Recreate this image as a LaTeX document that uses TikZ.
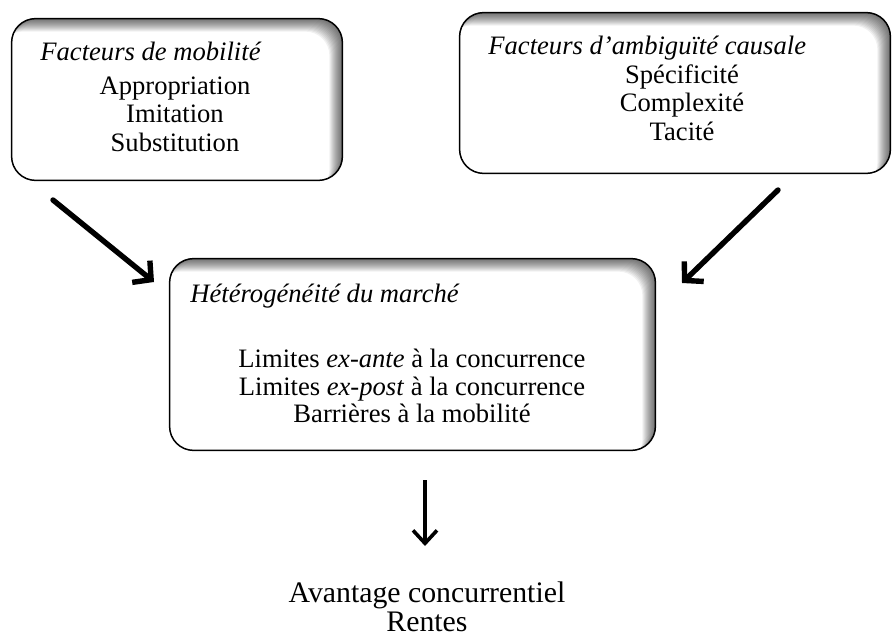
\documentclass[tikz,border=0pt]{standalone}
\usepackage{fontspec}
\setmainfont{Liberation Serif}
\usetikzlibrary{arrows.meta, positioning, calc}
\tikzset{
  boxnode/.style={draw=none, fill=white, rounded corners=12pt, inner sep=0pt},
  boxtxt/.style={font=\fontsize{13.3}{15}\selectfont, inner sep=0pt, anchor=base},
  titletxt/.style={font=\fontsize{13.3}{15}\selectfont\itshape, inner sep=0pt, anchor=base west},
  endtxt/.style={font=\fontsize{14.9}{17}\selectfont, inner sep=0pt, anchor=base},
  bigarrow/.style={line width=2.7pt, line cap=round, -{Straight Barb[length=6.5pt,width=14pt]}},
  smallarrow/.style={line width=1.8pt, -{Straight Barb[length=6.5pt,width=12pt]}},
}
% inner shadow along top and right edge of a box node
\newcommand{\innershade}[1]{%
  \begin{scope}
    \clip[rounded corners=12pt] (#1.south west) rectangle (#1.north east);
    \foreach \i in {1,...,13}
      \fill[black, opacity=0.055, even odd rule, rounded corners=12pt]
        ([shift={(-30,30)}]#1.north west) rectangle ([shift={(30,-30)}]#1.south east)
        ([shift={(-\i,-\i)}]#1.south west) rectangle ([shift={(-\i,-\i)}]#1.north east);
  \end{scope}
  \draw[line width=0.75pt, rounded corners=12pt] (#1.south west) rectangle (#1.north east);
}

\begin{document}
\begin{tikzpicture}[x=0.5pt,y=0.5pt]
\useasboundingbox (0,0) rectangle (893,-636);

% -- Facteurs de mobilite ------------------------------------------------------
\node[boxnode, minimum width=165pt, minimum height=80.5pt] (mob) at (177,-99.5) {};
\innershade{mob}
\node[titletxt] (mobtitle) at (40,-61) {Facteurs de mobilité};
\foreach \t [count=\k] in {Appropriation, Imitation, Substitution}
  \node[boxtxt] (mob\k) at (175,-66-28.5*\k) {\t};

% -- Facteurs d'ambiguite causale ----------------------------------------------
\node[boxnode, minimum width=215pt, minimum height=80pt] (amb) at (675,-93) {};
\innershade{amb}
\node[titletxt] (ambtitle) at (488,-55) {Facteurs d’ambiguïté causale};
\foreach \t [count=\k] in {Spécificité, Complexité, Tacité}
  \node[boxtxt] (amb\k) at (682,-55-28.5*\k) {\t};

% -- Heterogeneite du marche ---------------------------------------------------
\node[boxnode, minimum width=242.5pt, minimum height=95.5pt] (het) at (412.5,-354.5) {};
\innershade{het}
\node[titletxt] (hettitle) at (190,-302) {Hétérogénéité du marché};
\foreach \t [count=\k] in {Limites \textit{ex-ante} à la concurrence,
                           Limites \textit{ex-post} à la concurrence,
                           Barrières à la mobilité}
  \node[boxtxt] (het\k) at (412,-340-27.5*\k) {\t};

% -- Result --------------------------------------------------------------------
\node[endtxt] (av1) at (427,-602) {Avantage concurrentiel};
\node[endtxt] (av2) at (427,-631) {Rentes};

% -- Arrows --------------------------------------------------------------------
\coordinate (a1s) at (53,-200);  \coordinate (a1e) at (154,-282);
\coordinate (a2s) at (778,-190); \coordinate (a2e) at (682,-283);
\coordinate (a3s) at (425,-480); \coordinate (a3e) at (425,-546);
\draw[bigarrow] (a1s) -- (a1e);
\draw[bigarrow] (a2s) -- (a2e);
\draw[smallarrow] (a3s) -- (a3e);

\end{tikzpicture}
\end{document}
